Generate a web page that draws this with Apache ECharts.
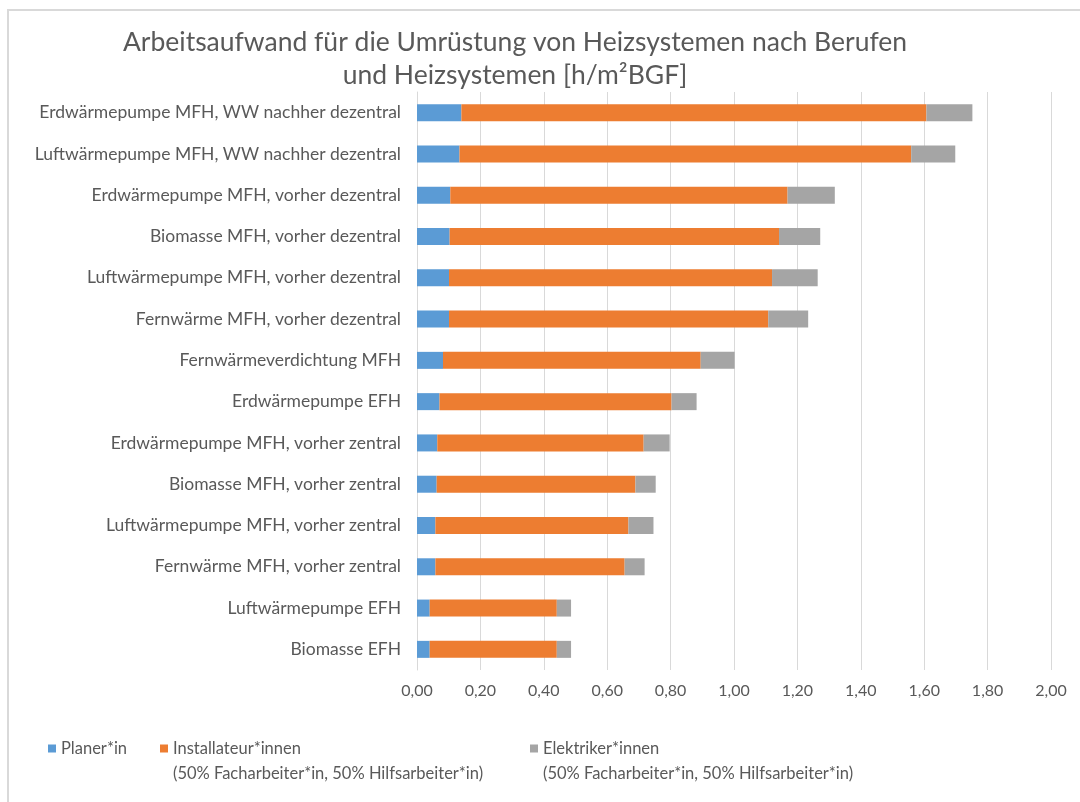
<!DOCTYPE html>
<html>
<head>
<meta charset="utf-8">
<script src="https://cdn.jsdelivr.net/npm/echarts@6/dist/echarts.min.js"></script>
<style>
html,body{margin:0;padding:0;background:#fff;}
#chart{width:1080px;height:802px;}
</style>
</head>
<body>
<div id="chart"></div>
<script>
// Kategorien (von oben nach unten)
var categories = [
	'Erdwärmepumpe MFH, WW nachher dezentral',
	'Luftwärmepumpe MFH, WW nachher dezentral',
	'Erdwärmepumpe MFH, vorher dezentral',
	'Biomasse MFH, vorher dezentral',
	'Luftwärmepumpe MFH, vorher dezentral',
	'Fernwärme MFH, vorher dezentral',
	'Fernwärmeverdichtung MFH',
	'Erdwärmepumpe EFH',
	'Erdwärmepumpe MFH, vorher zentral',
	'Biomasse MFH, vorher zentral',
	'Luftwärmepumpe MFH, vorher zentral',
	'Fernwärme MFH, vorher zentral',
	'Luftwärmepumpe EFH',
	'Biomasse EFH'
];
var planer = [0.140, 0.134, 0.105, 0.103, 0.101, 0.101, 0.082, 0.071, 0.064, 0.062, 0.058, 0.058, 0.040, 0.040];
var installateur = [1.467, 1.425, 1.064, 1.039, 1.019, 1.007, 0.813, 0.732, 0.651, 0.627, 0.609, 0.597, 0.401, 0.401];
var elektriker = [0.145, 0.139, 0.149, 0.130, 0.144, 0.126, 0.107, 0.079, 0.082, 0.064, 0.079, 0.063, 0.045, 0.045];

var seriesNames = [
	'Planer*in',
	'Installateur*innen\n(50% Facharbeiter*in, 50% Hilfsarbeiter*in)',
	'Elektriker*innen\n(50% Facharbeiter*in, 50% Hilfsarbeiter*in)'
];
var colors = ['#5B9BD5', '#ED7D31', '#A5A5A5'];

var font = 'Lato';
var txt = '#595959';

function legendItem(name, left, top, twoLines){
	return {
		left: left,
		top: top,
		padding: 0,
		itemWidth: 8,
		itemHeight: 8,
		icon: 'rect',
		selectedMode: false,
		data: [name],
		// leere Zeile oben, damit die erste Textzeile auf Höhe des Symbols liegt
		formatter: function(n){ return twoLines ? ' \n' + n : n; },
		textStyle: {
			fontFamily: font,
			fontSize: 16.5,
			color: txt,
			lineHeight: 25
		}
	};
}

var chart = echarts.init(document.getElementById('chart'));
chart.setOption({
	color: colors,
	animation: false,
	title: {
		text: 'Arbeitsaufwand für die Umrüstung von Heizsystemen nach Berufen\nund Heizsystemen [h/m²BGF]',
		left: 510,
		top: 21,
		textAlign: 'center',
		textStyle: {
			fontFamily: font,
			fontSize: 26.5,
			fontWeight: 'normal',
			color: txt,
			lineHeight: 33
		}
	},
	legend: [
		legendItem(seriesNames[0], 48, 736, false),
		legendItem(seriesNames[1], 160, 711, true),
		legendItem(seriesNames[2], 530, 711, true)
	],
	graphic: [{
		type: 'rect',
		shape: {x: 8, y: 10, width: 1200, height: 900},
		style: {fill: 'none', stroke: '#d9d9d9', lineWidth: 2},
		silent: true
	}],
	grid: {
		left: 417,
		right: 29,
		top: 92,
		bottom: 132
	},
	xAxis: {
		type: 'value',
		min: 0,
		max: 2,
		interval: 0.2,
		axisLine: {show: false},
		axisTick: {show: false},
		splitLine: {lineStyle: {color: '#d9d9d9', width: 1}},
		axisLabel: {
			margin: 13,
			fontFamily: font,
			fontSize: 16,
			color: txt,
			formatter: function(v){ return v.toFixed(2).replace('.', ','); }
		}
	},
	yAxis: {
		type: 'category',
		inverse: true,
		data: categories,
		axisLine: {show: true, lineStyle: {color: '#d9d9d9'}},
		axisTick: {show: false},
		axisLabel: {
			margin: 16,
			fontFamily: font,
			fontSize: 17.5,
			color: txt
		}
	},
	series: [
		{name: seriesNames[0], type: 'bar', stack: 'total', barWidth: 17, data: planer},
		{name: seriesNames[1], type: 'bar', stack: 'total', barWidth: 17, data: installateur},
		{name: seriesNames[2], type: 'bar', stack: 'total', barWidth: 17, data: elektriker}
	]
});
</script>
</body>
</html>
